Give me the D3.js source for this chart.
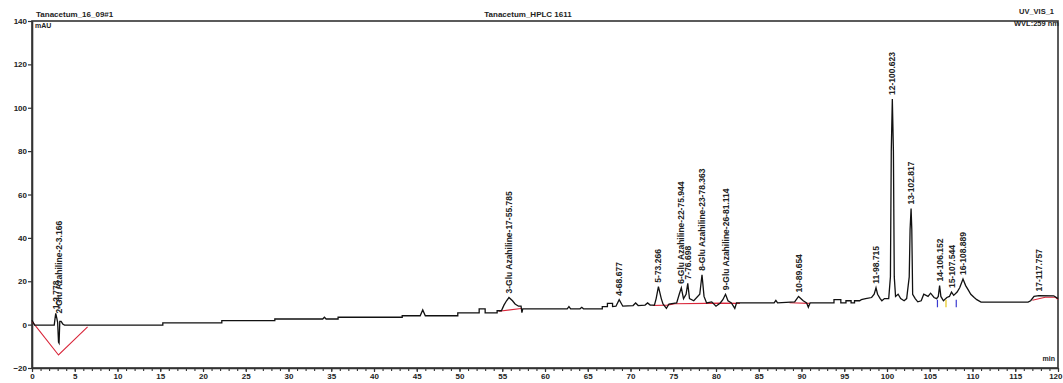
<!DOCTYPE html>
<html>
<head>
<meta charset="utf-8">
<script src="https://cdn.jsdelivr.net/npm/d3@7"></script>
<style>
  html, body { margin: 0; padding: 0; background: #fff; }
  svg { display: block; }
  text { font-family: "Liberation Sans", "DejaVu Sans", sans-serif; fill: #222; }
</style>
</head>
<body>
<svg id="chart" width="1063" height="383"></svg>
<script>
// ---- Header texts ----
const sampleName = "Tanacetum_16_09#1";
const sequenceName = "Tanacetum_HPLC 1611";
const channelName = "UV_VIS_1";
const wavelength = "WVL:259 nm";
const yUnit = "mAU";
const xUnit = "min";

// ---- Axis ticks ----
const yTicks = [-20, 0, 20, 40, 60, 80, 100, 120, 140];
const xTicks = [0, 5, 10, 15, 20, 25, 30, 35, 40, 45, 50, 55, 60, 65, 70, 75, 80, 85, 90, 95, 100, 105, 110, 115, 120];
const xMinorTicks = d3.range(0, 121, 1);

// ---- Chromatogram trace: retention time (min), absorbance (mAU) ----
const traceTime = [
  0, 0.3, 2.6, 2.7, 2.778, 2.9, 3.0, 3.1, 3.166, 3.25, 3.4, 3.6, 3.8,
  15.3, 15.3, 22.2, 22.2, 28.4, 28.4, 34.0, 34.2, 34.4, 35.8, 35.8,
  43.3, 43.3, 45.4, 45.7, 46.0, 49.8, 49.8, 52.3, 52.3, 53.0, 53.0, 54.4, 54.4,
  54.9, 55.2, 55.5, 55.785, 56.2, 56.5, 56.9, 57.2, 57.3, 57.4,
  62.6, 62.8, 63.0, 64.1, 64.3, 64.5, 66.7, 66.7, 67.3, 67.3, 67.9, 67.9,
  68.3, 68.677, 69.1, 70.3, 70.6, 70.9, 71.7, 72.0, 72.3, 72.8,
  73.0, 73.266, 73.6, 73.8, 74.2, 74.5, 75.4, 75.7, 75.944, 76.2,
  76.5, 76.698, 76.9, 77.4, 78.1, 78.363, 78.6, 78.9, 79.5, 80.0, 80.5,
  80.8, 81.114, 81.4, 81.8, 82.2, 82.4, 86.8, 87.0, 87.2,
  89.2, 89.654, 90.2, 90.6, 90.8, 91.0, 93.8, 93.8, 94.6, 94.6,
  95.2, 95.2, 95.8, 95.8, 96.2, 96.2, 96.8, 97.0, 97.5, 98.2,
  98.5, 98.715, 98.9, 99.2, 99.4, 99.7, 100.2, 100.4, 100.5, 100.623, 100.75, 100.85,
  101.0, 101.3, 101.6, 102.0, 102.3, 102.6, 102.7, 102.817, 102.9, 103.0,
  103.3, 103.6, 104.0, 104.3, 104.8, 105.1, 105.5, 105.8, 106.0, 106.152, 106.3,
  106.6, 107.0, 107.3, 107.544, 107.8, 108.2, 108.5, 108.889, 109.2, 109.5,
  109.8, 110.2, 110.5, 111.0, 116.5, 116.8, 117.2, 117.757, 119.5, 120
];
const traceValue = [
  2.0, -0.2, -0.2, 3.0, 5.2, 3.0, 1.0, -8.0, -8.5, 1.5, 1.5, 0.3, -0.2,
  -0.2, 0.8, 0.8, 1.8, 1.8, 2.6, 2.6, 3.4, 2.6, 2.6, 3.4,
  3.4, 4.1, 4.1, 6.8, 4.1, 4.1, 5.4, 5.4, 7.3, 7.3, 5.4, 5.4, 6.4,
  6.4, 9.0, 11.0, 12.5, 11.0, 9.5, 8.5, 8.5, 5.5, 7.3,
  7.3, 8.3, 7.3, 7.3, 8.0, 7.3, 7.3, 8.3, 8.3, 9.8, 9.8, 8.3,
  8.5, 11.5, 8.5, 8.8, 10.0, 8.8, 9.0, 10.0, 9.0, 9.0,
  12.0, 17.5, 12.0, 9.5, 7.5, 9.5, 10.0, 14.0, 17.0, 12.0,
  14.0, 19.0, 12.0, 11.0, 14.0, 23.0, 13.0, 10.0, 10.5, 8.5, 10.0,
  11.5, 14.0, 11.0, 10.0, 7.5, 10.0, 10.0, 11.2, 10.0,
  10.5, 13.0, 11.0, 10.0, 8.0, 10.0, 10.0, 11.5, 11.5, 10.0,
  10.0, 11.0, 11.0, 10.0, 10.0, 11.0, 11.0, 11.5, 12.0, 12.5,
  14.0, 17.0, 14.0, 12.0, 11.0, 12.0, 12.0, 22.0, 80.0, 104.0, 80.0, 22.0,
  13.0, 14.0, 12.0, 11.0, 12.0, 22.0, 44.0, 53.5, 44.0, 14.0,
  12.0, 10.5, 11.0, 14.0, 13.0, 14.5, 12.5, 12.0, 13.0, 18.0, 13.0,
  11.0, 12.5, 13.0, 15.0, 13.5, 15.0, 17.0, 21.0, 18.0, 16.0,
  14.0, 12.5, 11.5, 10.4, 10.4, 11.0, 13.0, 13.4, 13.3, 12.0
];

// ---- Integration baselines (red) ----
const baselines = [
  [[0, 1.5], [3.1, -14], [6.5, -1]],
  [[54.6, 6.2], [57.2, 7.4]],
  [[72.6, 8.8], [74.3, 9.0], [75.2, 9.6], [78.9, 9.8], [80.5, 9.9], [82.8, 9.8]],
  [[88.6, 10.1], [90.9, 9.8]],
  [[117.0, 11.2], [118.5, 12.6], [119.7, 12.6], [120, 11.6]]
];
// Peak delimiters (yellow / blue marks)
const delimTime = [105.9, 106.9, 108.1];
const delimColor = ["#3a3ad0", "#e6c619", "#3a3ad0"];

// ---- Peak labels ----
const peakTime = [2.778, 3.166, 55.785, 68.677, 73.266, 75.944, 76.698, 78.363, 81.114,
  89.654, 98.715, 100.623, 102.817, 106.152, 107.544, 108.889, 117.757];
const peakLabel = [
  "1-2.778",
  "2-Glu Azahiline-2-3.166",
  "3-Glu Azahiline-17-55.785",
  "4-68.677",
  "5-73.266",
  "6-Glu Azahiline-22-75.944",
  "7-76.698",
  "8-Glu Azahiline-23-78.363",
  "9-Glu Azahiline-26-81.114",
  "10-89.654",
  "11-98.715",
  "12-100.623",
  "13-102.817",
  "14-106.152",
  "15-107.544",
  "16-108.889",
  "17-117.757"
];

// ---- Drawing ----
const svg = d3.select("#chart");
const plotLeft = 32, plotRight = 1058, plotTop = 21, plotBottom = 368;
const x = d3.scaleLinear().domain([0, 120]).range([plotLeft, plotRight]);
const y = d3.scaleLinear().domain([-20, 140]).range([plotBottom, plotTop]);

// frame
svg.append("rect")
  .attr("x", plotLeft).attr("y", plotTop)
  .attr("width", plotRight - plotLeft).attr("height", plotBottom - plotTop)
  .attr("fill", "none").attr("stroke", "#333").attr("stroke-width", 1.6);

// y axis
const yAxis = d3.axisLeft(y).tickValues(yTicks).tickSize(4).tickSizeOuter(0)
  .tickFormat(d3.format("d"));
const gy = svg.append("g").attr("transform", `translate(${plotLeft},0)`).call(yAxis);
gy.select(".domain").attr("stroke", "#333").attr("stroke-width", 1.6);
gy.selectAll(".tick line").attr("stroke", "#333").attr("stroke-width", 1.2);
gy.selectAll(".tick text").attr("font-size", 8).attr("font-weight", "bold")
  .attr("font-family", "Liberation Sans, sans-serif").attr("fill", "#333").attr("x", -5);

// x axis: minor ticks then labelled ticks
const gxm = svg.append("g").attr("transform", `translate(0,${plotBottom})`)
  .call(d3.axisBottom(x).tickValues(xMinorTicks).tickSize(3).tickFormat(""));
gxm.select(".domain").remove();
gxm.selectAll(".tick line").attr("stroke", "#333").attr("stroke-width", 1.1);

const gx = svg.append("g").attr("transform", `translate(0,${plotBottom})`)
  .call(d3.axisBottom(x).tickValues(xTicks).tickSize(4).tickSizeOuter(0).tickFormat(d3.format("d")));
gx.select(".domain").attr("stroke", "#333").attr("stroke-width", 1.6);
gx.selectAll(".tick line").attr("stroke", "#333").attr("stroke-width", 1.2);
gx.selectAll(".tick text").attr("font-size", 8).attr("font-weight", "bold")
  .attr("font-family", "Liberation Sans, sans-serif").attr("fill", "#333").attr("dy", "0.55em");
// keep the last time label inside the page
gx.selectAll(".tick text").filter(d => d === xTicks[xTicks.length - 1])
  .attr("text-anchor", "end").attr("x", 4);

// header texts
svg.append("text").attr("x", 36).attr("y", 17).attr("font-size", 8).attr("font-weight", "bold").text(sampleName);
svg.append("text").attr("x", 528).attr("y", 17).attr("text-anchor", "middle").attr("font-size", 8).attr("font-weight", "bold").text(sequenceName);
svg.append("text").attr("x", 1054).attr("y", 14).attr("text-anchor", "end").attr("font-size", 7.5).attr("font-weight", "bold").text(channelName);
svg.append("text").attr("x", 1059).attr("y", 26).attr("text-anchor", "end").attr("font-size", 7.5).attr("font-weight", "bold").text(wavelength);
svg.append("text").attr("x", 35).attr("y", 28).attr("font-size", 7).attr("font-weight", "bold").text(yUnit);
svg.append("text").attr("x", 1055).attr("y", 361).attr("text-anchor", "end").attr("font-size", 7).attr("font-weight", "bold").text(xUnit);

// baselines
const line = d3.line().x(d => x(d[0])).y(d => y(d[1]));
svg.append("g").selectAll("path").data(baselines).join("path")
  .attr("d", line).attr("fill", "none").attr("stroke", "#d9263a").attr("stroke-width", 1.1);

// trace
const trace = traceTime.map((t, i) => [t, traceValue[i]]);
svg.append("path").datum(trace).attr("d", line)
  .attr("fill", "none").attr("stroke", "#111").attr("stroke-width", 1.3)
  .attr("stroke-linejoin", "miter");

// delimiters
svg.append("g").selectAll("line").data(delimTime).join("line")
  .attr("x1", d => x(d)).attr("x2", d => x(d))
  .attr("y1", y(8)).attr("y2", y(11.5))
  .attr("stroke", (d, i) => delimColor[i]).attr("stroke-width", 1.2);

// peak labels, rotated, starting just above the apex
function apexValue(t) {
  let best = 0, bd = Infinity;
  traceTime.forEach((tt, i) => { const dd = Math.abs(tt - t); if (dd < bd) { bd = dd; best = i; } });
  return Math.max(traceValue[best], 0);
}
svg.append("g").selectAll("text").data(peakTime).join("text")
  .attr("transform", (d, i) => {
    const ay = i === 1 ? y(6) + 2 : y(apexValue(d)) - 4;
    return `translate(${x(d) + 3},${ay}) rotate(-90)`;
  })
  .attr("font-size", 8.5).attr("font-weight", "bold")
  .attr("font-family", "Liberation Sans, sans-serif")
  .text((d, i) => peakLabel[i]);
</script>
</body>
</html>
